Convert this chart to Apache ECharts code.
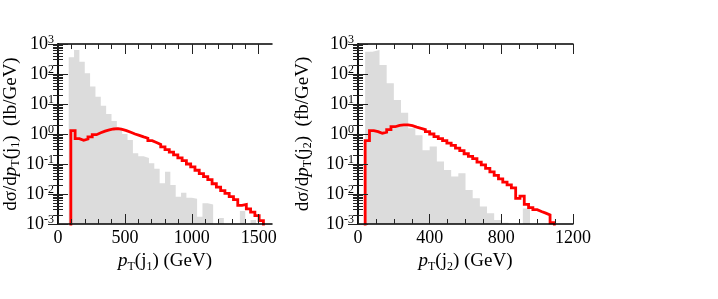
<!DOCTYPE html>
<html><head><meta charset="utf-8">
<script src="https://cdn.jsdelivr.net/npm/echarts@6/dist/echarts.min.js"></script>
<style>html,body{margin:0;padding:0;background:#fff}#c{width:718px;height:299px}</style>
</head><body><div id="c"></div>
<script>
// ---------- data ----------
// grey reference histograms (40 GeV bins)
const greyBinWidth = 40;
const leftGreyStart = 80;
const leftGrey = [360, 630, 257, 105, 38, 17.5, 8.7, 4.6, 2.7, 1.66,
  1.0, 0.63, 0.227, 0.18, 0.16, 0.105, 0.07, 0.0228, 0.055, 0.02,
  0.0081, 0.011, 0.0075, 0.007, 0.00175, 0.0049, 0.0045, null, 0.0016, null,
  null, null, 0.0027, null, 0.00136];
const rightGreyStart = 40;
const rightGrey = [553, 630, 200, 49, 13.6, 5.1, 1.56, 0.9, 0.29, 0.38,
  0.12, 0.063, 0.038, 0.049, 0.0136, 0.0072, 0.0038, 0.0023, 0.00136, 0.0011,
  null, null, 0.0033];

// red signal histograms
const leftRedStart = 96, leftRedWidth = 32;
const leftRed = [1.3, 0.7, 0.62, 0.68, 0.8, 0.95, 1.1, 1.25, 1.38, 1.47,
  1.5, 1.42, 1.3, 1.15, 1.0, 0.9, 0.8, 0.72, 0.6, 0.52,
  0.45, 0.37, 0.3, 0.25, 0.2, 0.16, 0.13, 0.1, 0.08, 0.062,
  0.048, 0.038, 0.03, 0.022, 0.017, 0.013, 0.0105, 0.0082, 0.0065, 0.0042,
  0.0045, 0.0032, 0.0025, 0.0019, 0.0013];
const rightRedStart = 40, rightRedWidth = 24;
const rightRed = [0.6, 1.3, 1.2, 1.05, 1.15, 1.4, 1.75, 1.95, 2.0, 2.0,
  1.9, 1.7, 1.55, 1.4, 1.2, 1.0, 0.82, 0.7, 0.6, 0.5,
  0.42, 0.34, 0.28, 0.22, 0.18, 0.15, 0.115, 0.093, 0.072, 0.055,
  0.042, 0.032, 0.025, 0.02, 0.016, 0.0072, 0.0085, 0.0045, 0.0035, 0.003,
  0.0026, 0.0023, 0.002, 0.0011];

// axes / ticks
const leftXMajor = [0, 500, 1000, 1500];
const leftXMinor = [100, 200, 300, 400, 600, 700, 800, 900, 1100, 1200, 1300, 1400];
const leftXMax = 1600;
const rightXMajor = [0, 400, 800, 1200];
const rightXMinor = [100, 200, 300, 500, 600, 700, 900, 1000, 1100];
const rightXMax = 1200;
const yMajor = [1e-3, 1e-2, 1e-1, 1, 10, 100, 1000];
const yMinor = [];
for (let d = -3; d < 3; d++) for (let m = 2; m <= 9; m++) yMinor.push(+(m * Math.pow(10, d)).toPrecision(3));

const leftXName = '{i|p}{s|T}{n|(j}{s|1}{n|) (GeV)}';
const rightXName = '{i|p}{s|T}{n|(j}{s|2}{n|) (GeV)}';
const leftYName = '{n|dσ/d}{i|p}{s|T}{n|(j}{s|1}{n|)  (lb/GeV)}';
const rightYName = '{n|dσ/d}{i|p}{s|T}{n|(j}{s|2}{n|)  (fb/GeV)}';

// ---------- helpers ----------
const FONT = '"Liberation Serif","DejaVu Serif",serif';
const nameRich = {
  n: {fontFamily: FONT, fontSize: 19, lineHeight: 22, color: '#000'},
  i: {fontFamily: FONT, fontSize: 19, lineHeight: 22, fontStyle: 'italic', color: '#000'},
  s: {fontFamily: FONT, fontSize: 12, lineHeight: 11, verticalAlign: 'bottom', color: '#000'}
};
const TINY = 1e-6;

function stepData(start, w, vals) {
  const pts = [[start, TINY]];
  vals.forEach((v, i) => pts.push([start + i * w, v == null ? TINY : v]));
  pts.push([start + vals.length * w, TINY]);
  return pts;
}

function xAxesFor(g, max, major, minor, name) {
  const base = {type: 'value', gridIndex: g, min: 0, max: max, z: 10, splitLine: {show: false}};
  return [
    Object.assign({}, base, {position: 'bottom', name: name, nameLocation: 'middle', nameGap: 11,
      nameTextStyle: {rich: nameRich},
      axisLine: {show: true, lineStyle: {color: '#000', width: 1.5}},
      axisTick: {show: true, inside: true, length: 10, customValues: major, lineStyle: {color: '#222', width: 1}},
      axisLabel: {show: true, customValues: major, margin: 5, fontFamily: FONT, fontSize: 18, color: '#000',
        formatter: v => String(v)}}),
    Object.assign({}, base, {position: 'bottom',
      axisLine: {show: false},
      axisTick: {show: true, inside: true, length: 5, customValues: minor, lineStyle: {color: '#222', width: 1}},
      axisLabel: {show: false}}),
    Object.assign({}, base, {position: 'top',
      axisLine: {show: true, lineStyle: {color: '#000', width: 1.5}},
      axisTick: {show: true, inside: true, length: 10, customValues: major, lineStyle: {color: '#222', width: 1}},
      axisLabel: {show: false}}),
    Object.assign({}, base, {position: 'top',
      axisLine: {show: false},
      axisTick: {show: true, inside: true, length: 5, customValues: minor, lineStyle: {color: '#222', width: 1}},
      axisLabel: {show: false}})
  ];
}
function yAxesFor(g, name, gap) {
  const base = {type: 'log', logBase: 10, gridIndex: g, min: 1e-3, max: 1e3, z: 10, splitLine: {show: false}, minorTick: {show: false}};
  return [
    Object.assign({}, base, {position: 'left', name: name, nameLocation: 'middle', nameGap: gap,
      nameTextStyle: {rich: nameRich},
      axisLine: {show: true, lineStyle: {color: '#000', width: 1.5}},
      axisTick: {show: true, inside: true, length: 10, customValues: yMajor, lineStyle: {color: '#222', width: 1}},
      axisLabel: {show: true, customValues: yMajor, margin: 4,
        formatter: v => '{b|10}{e|' + Math.round(Math.log10(v)) + '}',
        rich: {
          b: {fontFamily: FONT, fontSize: 18, lineHeight: 20, color: '#000'},
          e: {fontFamily: FONT, fontSize: 12, lineHeight: 10, verticalAlign: 'top', color: '#000'}
        }}}),
    Object.assign({}, base, {position: 'left',
      axisLine: {show: false},
      axisTick: {show: true, inside: true, length: 5, customValues: yMinor, lineStyle: {color: '#222', width: 1}},
      axisLabel: {show: false}}),
    Object.assign({}, base, {position: 'right',
      axisLine: {show: true, lineStyle: {color: '#000', width: 1.5}},
      axisTick: {show: true, inside: true, length: 10, customValues: yMajor, lineStyle: {color: '#222', width: 1}},
      axisLabel: {show: false}}),
    Object.assign({}, base, {position: 'right',
      axisLine: {show: false},
      axisTick: {show: true, inside: true, length: 5, customValues: yMinor, lineStyle: {color: '#222', width: 1}},
      axisLabel: {show: false}})
  ];
}

function greySeries(xi, yi, data) {
  return {type: 'line', xAxisIndex: xi, yAxisIndex: yi, step: 'end', data: data, symbol: 'none',
    clip: true, z: 1, lineStyle: {width: 0, opacity: 0},
    areaStyle: {color: '#dcdcdc', opacity: 1, origin: 'start'}, animation: false};
}
function redSeries(xi, yi, data) {
  return {type: 'line', xAxisIndex: xi, yAxisIndex: yi, step: 'end', data: data, symbol: 'none',
    clip: true, z: 3, lineStyle: {color: '#ff0000', width: 2.8, join: 'miter'}, animation: false};
}

const chart = echarts.init(document.getElementById('c'), null, {renderer: 'canvas'});
chart.setOption({
  animation: false,
  backgroundColor: '#fff',
  grid: [
    {left: 58, top: 44, width: 214, height: 180},
    {left: 358, top: 44, width: 215, height: 180}
  ],
  xAxis: [].concat(xAxesFor(0, leftXMax, leftXMajor, leftXMinor, leftXName),
                   xAxesFor(1, rightXMax, rightXMajor, rightXMinor, rightXName)),
  yAxis: [].concat(yAxesFor(0, leftYName, 36), yAxesFor(1, rightYName, 44)),
  series: [
    greySeries(0, 0, stepData(leftGreyStart, greyBinWidth, leftGrey)),
    redSeries(0, 0, stepData(leftRedStart, leftRedWidth, leftRed)),
    greySeries(4, 4, stepData(rightGreyStart, greyBinWidth, rightGrey)),
    redSeries(4, 4, stepData(rightRedStart, rightRedWidth, rightRed))
  ]
});
</script>
</body></html>
